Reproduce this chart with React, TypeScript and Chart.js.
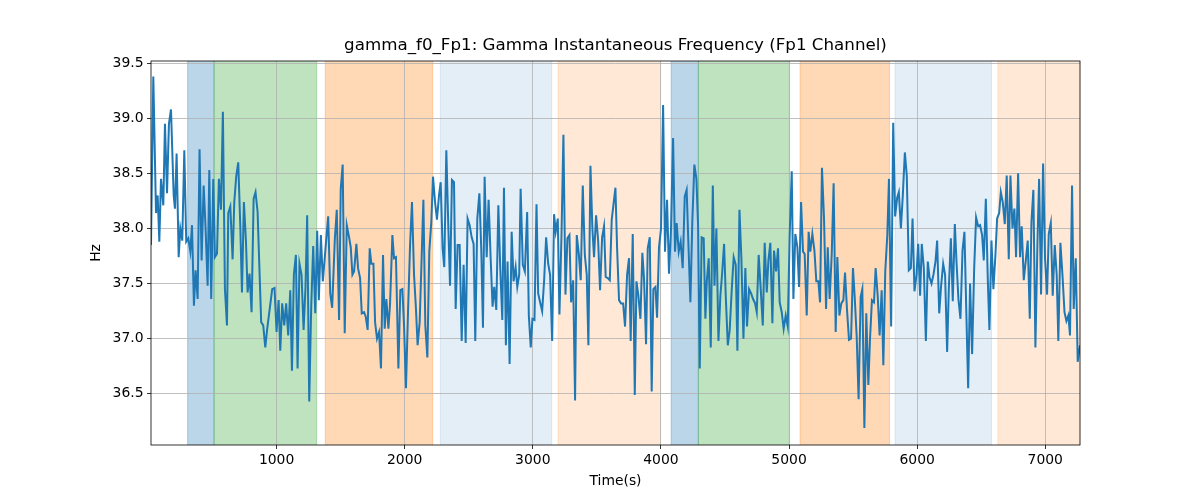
import { Chart, registerables } from "chart.js";
import { useEffect, useRef } from "react";

Chart.register(...registerables);

const times = [
  20, 38, 59, 72, 85, 98, 116, 129, 145, 160,
  176, 197, 207, 220, 236, 249, 264, 280, 295, 311,
  327, 340, 355, 368, 384, 399, 415, 431, 446, 462,
  475, 490, 506, 519, 535, 550, 566, 581, 597, 613,
  623, 639, 657, 670, 685, 701, 717, 730, 745, 761,
  774, 789, 805, 821, 836, 852, 867, 880, 896, 912,
  927, 966, 984, 1000, 1016, 1029, 1044, 1060, 1075, 1091,
  1107, 1120, 1135, 1151, 1164, 1179, 1195, 1211, 1226, 1239,
  1255, 1270, 1286, 1302, 1317, 1330, 1346, 1361, 1385, 1403,
  1419, 1434, 1455,
  1470, 1488, 1501, 1516, 1532, 1548, 1566, 1579, 1592, 1605,
  1623, 1636, 1652, 1665, 1683, 1696, 1711, 1727, 1740, 1756,
  1769, 1784, 1800, 1815, 1831, 1844, 1857, 1873, 1886, 1904,
  1917, 1932, 1951, 1966, 1982, 1995, 2010, 2026, 2042, 2057,
  2073, 2088, 2101, 2117, 2133, 2146, 2161, 2177, 2192, 2208,
  2221, 2237, 2252, 2268, 2281, 2296, 2309, 2325, 2341, 2354,
  2369, 2385, 2398, 2413, 2429, 2445, 2460, 2476, 2491, 2507,
  2523, 2538, 2551, 2567, 2583, 2598, 2611, 2624, 2640, 2655,
  2671, 2686, 2699, 2715, 2731, 2746, 2762, 2775, 2790, 2803,
  2819, 2835, 2850, 2866, 2879, 2894, 2905,
  2922, 2938, 2956, 2969, 2984, 2997, 3013, 3029, 3042, 3057,
  3073, 3088, 3104, 3120, 3135, 3151, 3166, 3179, 3195, 3208,
  3224, 3239, 3255, 3270, 3286, 3299, 3315, 3330, 3343, 3359,
  3374, 3390, 3406, 3421, 3434, 3450, 3465, 3478, 3494, 3510,
  3525, 3541, 3556, 3569, 3585, 3601, 3616, 3629, 3645, 3658,
  3673, 3689, 3705, 3720, 3736, 3751, 3764, 3780, 3796, 3809,
  3824, 3840, 3855, 3868, 3884, 3897, 3913, 3928, 3941, 3957,
  3970, 3985, 4001, 4017, 4032, 4048, 4063, 4079, 4095, 4110,
  4123, 4139, 4154, 4170, 4186, 4201, 4214, 4230, 4245, 4261,
  4277, 4290, 4303, 4318, 4334, 4347,
  4358, 4373, 4389, 4405, 4418, 4433, 4449, 4464, 4477, 4493,
  4506, 4522, 4537, 4553, 4568, 4584, 4597, 4613, 4628, 4644,
  4659, 4672, 4688, 4704, 4719, 4735, 4748, 4763, 4779, 4795,
  4810, 4826, 4839, 4854, 4870, 4883, 4899, 4914, 4927, 4943,
  4958, 4974, 4990, 5005, 5021, 5034, 5049, 5065, 5078, 5094,
  5109, 5122, 5138, 5153, 5166, 5182, 5198, 5213, 5229, 5242,
  5257, 5273, 5289, 5302, 5317, 5333, 5348, 5364, 5377, 5393,
  5408, 5424, 5437, 5452, 5468, 5484, 5499, 5512, 5528, 5543,
  5559, 5572, 5588, 5603, 5619, 5632, 5647, 5663, 5676, 5692,
  5707, 5723, 5736, 5751, 5767, 5780,
  5797, 5813, 5828, 5844, 5857, 5873, 5888, 5904, 5919, 5935,
  5951, 5964, 5979, 5995, 6008, 6023, 6036, 6052, 6068, 6083,
  6096, 6112, 6127, 6143, 6156, 6172, 6187, 6203, 6218, 6234,
  6247, 6263, 6278, 6294, 6307, 6322, 6338, 6354, 6369, 6385,
  6398, 6413, 6429, 6445, 6460, 6476, 6491, 6507, 6520, 6536,
  6551, 6564, 6580, 6595, 6611, 6624, 6640, 6653, 6668, 6684,
  6699, 6715, 6728, 6744, 6759, 6772, 6788, 6803, 6816, 6832,
  6848, 6863, 6879, 6892, 6907, 6923, 6939, 6952, 6967, 6983,
  6998, 7014, 7027, 7043, 7058, 7074, 7089, 7102, 7118, 7134,
  7150, 7165, 7180, 7193, 7209, 7222, 7238, 7253, 7271,
];

const hz = [
  37.85, 39.38, 38.14, 38.3, 37.88, 38.45, 38.21, 38.95, 38.32, 38.95,
  39.08, 38.3, 38.18, 38.68, 37.74, 38.0, 37.89, 38.71, 37.88, 37.91,
  37.79, 38.03, 37.3, 37.62, 37.36, 38.72, 37.71, 38.39, 38.0, 37.48,
  38.53, 37.36, 38.45, 37.74, 37.77, 38.45, 38.17, 39.06, 37.45, 37.12,
  38.14, 38.2, 37.72, 38.24, 38.47, 38.6, 38.02, 37.42, 38.24, 37.89,
  37.42, 37.59, 37.24, 38.27, 38.33, 38.15, 37.61, 37.15, 37.12, 36.92,
  37.09, 37.45, 37.46, 37.06, 37.35, 36.89, 37.32, 37.12, 37.32, 37.03,
  37.44, 36.71, 37.58, 37.76, 36.73, 37.68, 37.58, 37.08, 37.47, 38.12,
  36.43, 37.27, 37.84, 37.23, 37.98, 37.35, 37.94, 37.52, 37.86, 38.11,
  37.41, 37.28, 37.91,
  38.17, 37.17, 38.36, 38.58, 37.05, 38.03, 37.92, 37.83, 37.58, 37.61,
  37.86, 37.64, 37.55, 37.23, 37.24, 37.2, 37.08, 37.82, 37.68, 37.68,
  37.15, 37.0, 37.06, 36.73, 37.76, 37.09, 37.36, 37.09, 37.32, 37.94,
  37.73, 37.74, 36.73, 37.44, 37.45, 37.12, 36.55, 37.24, 37.85, 38.24,
  37.58, 37.27, 36.94, 37.15, 37.76, 38.26, 37.12, 36.83, 37.79, 38.06,
  38.47, 38.24, 38.08, 38.3, 38.42, 37.82, 37.65, 38.71, 38.0, 37.48,
  38.44, 38.42, 37.27, 37.85, 37.85, 36.98, 37.67, 36.96, 38.09, 38.03,
  37.92, 37.86, 36.98, 38.09, 38.32, 37.8, 37.1, 38.47, 37.74, 38.26,
  37.73, 37.29, 37.47, 37.26, 38.21, 37.64, 37.17, 38.37, 36.94, 37.7,
  36.77, 37.97, 37.52, 37.65, 37.47, 37.58, 38.36,
  37.67, 37.61, 38.15, 37.21, 36.92, 37.18, 37.17, 38.22, 37.41, 37.33,
  37.25, 37.52, 37.92, 37.68, 37.58, 36.98, 38.13, 37.97, 38.09, 37.22,
  37.94, 38.85, 37.4, 37.91, 37.94, 37.33, 37.53, 36.44, 37.94, 37.77,
  37.53, 38.39, 37.76, 37.58, 36.94, 38.57, 38.0, 37.74, 38.12, 37.89,
  37.44, 37.92, 38.02, 37.56, 37.55, 37.53, 38.08, 38.21, 38.37, 37.82,
  37.35, 37.32, 37.32, 37.11, 37.58, 37.73, 36.98, 37.95, 36.49, 37.52,
  37.39, 37.18, 37.78, 37.55, 36.95, 37.82, 37.92, 36.52, 37.45, 37.47,
  37.19, 37.83, 38.0, 39.12, 37.79, 38.26, 37.59, 38.0, 38.82, 37.79,
  38.05, 37.79, 37.88, 37.64, 38.29, 38.35, 37.88, 37.33, 38.06, 38.58,
  38.45, 38.03, 36.73, 37.92, 37.91, 37.18,
  37.52, 37.73, 36.92, 38.39, 37.48, 38.0, 36.98, 37.39, 37.58, 37.86,
  37.39, 36.94, 37.08, 37.45, 37.74, 37.67, 36.89, 38.17, 37.73, 37.0,
  37.64, 37.11, 37.45, 37.41, 37.36, 37.32, 37.24, 37.76, 37.45, 37.12,
  37.87, 37.42, 37.71, 37.87, 37.14, 37.8, 37.61, 37.82, 37.33, 37.24,
  37.09, 37.21, 37.11, 37.94, 38.52, 37.36, 37.95, 37.83, 37.47, 38.24,
  37.79, 37.77, 37.21, 37.97, 37.79, 37.95, 37.8, 37.52, 37.52, 37.33,
  38.55, 38.09, 37.27, 37.83, 37.36, 37.76, 38.41, 37.06, 37.74, 37.21,
  37.32, 37.35, 37.6, 37.27, 36.99, 37.0, 37.64, 37.39, 37.02, 36.45,
  37.38, 37.45, 36.19, 37.23, 36.58, 37.0, 37.35, 37.33, 37.64, 37.39,
  37.03, 37.44, 36.76, 37.61, 37.94, 38.45,
  37.11, 38.96, 38.11, 38.28, 38.33, 38.0, 38.3, 38.69, 38.48, 37.62,
  37.64, 38.09, 37.43, 37.58, 37.86, 37.39, 37.86, 37.64, 36.98, 37.7,
  37.56, 37.5, 37.58, 37.7, 37.89, 37.23, 37.48, 37.68, 37.58, 36.88,
  37.45, 37.91, 37.34, 38.04, 37.7, 37.36, 37.18, 37.8, 37.97, 37.18,
  36.55, 37.5, 36.86, 37.64, 38.1, 38.02, 38.03, 37.94, 37.71, 38.27,
  37.55, 37.08, 37.89, 37.45, 37.76, 38.09, 38.14, 38.33, 38.24, 38.04,
  38.48, 37.72, 38.48, 38.0, 38.18, 37.74, 38.5, 37.74, 38.02, 37.53,
  37.71, 37.89, 37.18, 38.06, 38.35, 36.92, 37.88, 38.45, 37.4, 38.59,
  37.73, 37.4, 37.95, 38.05, 37.39, 37.85, 37.58, 36.98, 37.87, 37.58,
  37.24, 37.16, 37.21, 37.03, 38.39, 37.27, 37.73, 36.79, 36.94,
];

// shaded segments (start, end in seconds) and their kind
const spanStarts = [306, 512, 1380, 2278, 3197, 4080, 4292, 5086, 5827, 6630];
const spanEnds = [512, 1313, 2219, 3148, 3998, 4292, 5003, 5784, 6580, 7271];
const spanKinds = ["blue", "green", "orange", "paleBlue", "paleOrange", "blue", "green", "orange", "paleBlue", "paleOrange"];

const xTicks = [1000, 2000, 3000, 4000, 5000, 6000, 7000];
const yTicks = [36.5, 37.0, 37.5, 38.0, 38.5, 39.0, 39.5];

const TITLE = "gamma_f0_Fp1: Gamma Instantaneous Frequency (Fp1 Channel)";

const kindColors: Record<string, string> = {
  blue: "rgba(31,119,180,0.3)",
  green: "rgba(44,160,44,0.3)",
  orange: "rgba(255,127,14,0.3)",
  paleBlue: "rgba(31,119,180,0.12)",
  paleOrange: "rgba(255,127,14,0.17)",
};

const FONT = "DejaVu Sans";

const spanPlugin = {
  id: "spans",
  beforeDraw(chart: any) {
    const { ctx, chartArea, scales } = chart;
    const x = scales.x;
    ctx.save();
    ctx.fillStyle = "#fff";
    ctx.fillRect(0, 0, chart.width, chart.height);
    for (let i = 0; i < spanStarts.length; i++) {
      const x0 = Math.max(x.getPixelForValue(spanStarts[i]), chartArea.left);
      const x1 = Math.min(x.getPixelForValue(spanEnds[i]), chartArea.right);
      const c = kindColors[spanKinds[i]];
      ctx.fillStyle = c;
      ctx.fillRect(x0, chartArea.top, x1 - x0, chartArea.bottom - chartArea.top);
      ctx.strokeStyle = c;
      ctx.lineWidth = 1;
      ctx.beginPath();
      ctx.moveTo(x0, chartArea.top);
      ctx.lineTo(x0, chartArea.bottom);
      ctx.moveTo(x1, chartArea.top);
      ctx.lineTo(x1, chartArea.bottom);
      ctx.stroke();
    }
    ctx.restore();
  },
  afterDraw(chart: any) {
    const { ctx, chartArea } = chart;
    ctx.save();
    ctx.strokeStyle = "#000";
    ctx.lineWidth = 0.8;
    ctx.strokeRect(chartArea.left, chartArea.top, chartArea.right - chartArea.left, chartArea.bottom - chartArea.top);
    // title centred over the plot area, like matplotlib
    ctx.fillStyle = "#000";
    ctx.font = `16.7px "${FONT}"`;
    ctx.textAlign = "center";
    ctx.textBaseline = "middle";
    ctx.fillText(TITLE, (chartArea.left + chartArea.right) / 2, 46);
    ctx.restore();
  },
};

function FrequencyChart(): JSX.Element {
  const canvasRef = useRef<HTMLCanvasElement | null>(null);

  useEffect(() => {
    const canvas = canvasRef.current;
    if (!canvas) return;
    const points = times.map((t, i) => ({ x: t, y: hz[i] }));

    const chart = new Chart(canvas, {
      type: "line",
      data: {
        datasets: [
          {
            label: "gamma_f0_Fp1",
            data: points,
            borderColor: "#1f77b4",
            borderWidth: 2,
            pointRadius: 0,
            tension: 0,
          },
        ],
      },
      options: {
        animation: false,
        responsive: true,
        maintainAspectRatio: false,
        layout: { padding: { left: 0, right: 120, top: 61, bottom: 0 } },
        plugins: {
          legend: { display: false },
          tooltip: { enabled: false },
          title: { display: false },
        },
        scales: {
          x: {
            type: "linear",
            min: 20,
            max: 7271,
            afterFit: (s: any) => {
              s.height = 55;
            },
            afterBuildTicks: (s: any) => {
              s.ticks = xTicks.map((v) => ({ value: v }));
            },
            border: { display: false },
            grid: {
              color: "#b0b0b0",
              lineWidth: 0.8,
              tickColor: "#000",
              tickLength: 4,
              tickWidth: 0.8,
            },
            ticks: {
              color: "#000",
              padding: 3,
              maxRotation: 0,
              font: { family: FONT, size: 13.9 },
              callback: (v: any) => String(v),
            },
            title: {
              display: true,
              text: "Time(s)",
              color: "#000",
              font: { family: FONT, size: 13.9 },
              padding: { top: 0, bottom: 10.7 },
            },
          },
          y: {
            type: "linear",
            min: 36.035,
            max: 39.52,
            afterFit: (s: any) => {
              s.width = 151;
            },
            afterBuildTicks: (s: any) => {
              s.ticks = yTicks.map((v) => ({ value: v }));
            },
            border: { display: false },
            grid: {
              color: "#b0b0b0",
              lineWidth: 0.8,
              tickColor: "#000",
              tickLength: 4,
              tickWidth: 0.8,
            },
            ticks: {
              color: "#000",
              padding: 3.5,
              font: { family: FONT, size: 13.9 },
              callback: (v: any) => Number(v).toFixed(1),
            },
            title: {
              display: true,
              text: "Hz",
              color: "#000",
              font: { family: FONT, size: 13.9 },
              padding: { top: 87.7, bottom: 0 },
            },
          },
        },
      },
      plugins: [spanPlugin],
    });

    return () => {
      chart.destroy();
    };
  }, []);

  return (
    <div style={{ position: "absolute", left: 0, top: 0, width: 1200, height: 500 }}>
      <canvas ref={canvasRef}></canvas>
    </div>
  );
}

export default function App(): JSX.Element {
  return <FrequencyChart />;
}
